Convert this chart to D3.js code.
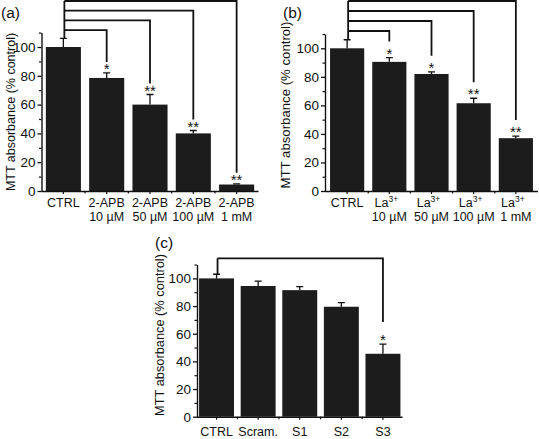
<!DOCTYPE html>
<html><head><meta charset="utf-8">
<script src="https://cdn.jsdelivr.net/npm/d3@7"></script>
<style>
body{margin:0;background:#fff;}
svg text{font-family:"Liberation Sans",Arial,Helvetica,sans-serif;fill:#111;}
</style></head>
<body><svg id="chart" width="539" height="439"></svg>
<script>
// ---------- data ----------
const yTicks = [0, 20, 40, 60, 80, 100];
const yMinorTicks = [10, 30, 50, 70, 90, 110];

const labelsA1 = ["CTRL", "2-APB", "2-APB", "2-APB", "2-APB"];
const labelsA2 = ["", "10 µM", "50 µM", "100 µM", "1 mM"];
const valuesA = [100, 78.5, 60, 40, 4.5];
const errorsA = [6, 3.5, 7, 2, 0.5];
const starsA = ["", "*", "**", "**", "**"];

const labelsB1 = ["CTRL", "La", "La", "La", "La"];
const supB = ["", "3+", "3+", "3+", "3+"];
const labelsB2 = ["", "10 µM", "50 µM", "100 µM", "1 mM"];
const valuesB = [100, 90.5, 82, 61.5, 37];
const errorsB = [6, 3, 1.5, 3.5, 1.5];
const starsB = ["", "*", "*", "**", "**"];

const labelsC1 = ["CTRL", "Scram.", "S1", "S2", "S3"];
const valuesC = [100, 94.5, 91.5, 79.5, 45.5];
const errorsC = [3, 3.5, 2.5, 3, 7];
const starsC = ["", "", "", "", "*"];

const svg = d3.select("#chart");
const ink = "#111";

function panel(cfg) {
  const g = svg.append("g");
  const n = cfg.labels1.length;
  const idx = d3.range(n);
  const x = d3.scaleBand().domain(idx).range(cfg.xr).paddingInner(cfg.pi).paddingOuter(cfg.po);
  const y = d3.scaleLinear().domain([0, 110]).range([cfg.y0, cfg.y0 - cfg.unit * 110]);

  // bars
  g.selectAll("rect.bar").data(idx).join("rect")
    .attr("x", i => x(i)).attr("width", x.bandwidth())
    .attr("y", i => y(cfg.values[i])).attr("height", i => y(0) - y(cfg.values[i]))
    .attr("fill", "#1c1c1c");

  // error bars
  const cx = i => x(i) + x.bandwidth() / 2;
  g.selectAll("path.err").data(idx).join("path")
    .attr("d", i => {
      const t = y(cfg.values[i] + cfg.errors[i]);
      return `M${cx(i)},${y(cfg.values[i])}V${t}M${cx(i) - 3.5},${t}H${cx(i) + 3.5}`;
    })
    .attr("stroke", ink).attr("stroke-width", 1.3).attr("fill", "none");

  // y axis
  const ya = g.append("g").attr("transform", `translate(${cfg.xr[0]},0)`)
    .call(d3.axisLeft(y).tickValues(yTicks).tickSize(4).tickSizeOuter(0).tickPadding(2));
  ya.attr("font-size", null).attr("font-family", null);
  ya.select(".domain").attr("stroke", ink).attr("stroke-width", 1.4);
  ya.selectAll(".tick line").attr("stroke", ink).attr("stroke-width", 1.3);
  ya.selectAll("text").attr("font-size", 13.5).attr("fill", ink);
  const ym = g.append("g").attr("transform", `translate(${cfg.xr[0]},0)`)
    .call(d3.axisLeft(y).tickValues(yMinorTicks).tickSize(2.5).tickFormat(""));
  ym.select(".domain").remove();
  ym.selectAll(".tick line").attr("stroke", ink).attr("stroke-width", 1.2);

  // x axis
  const xa = g.append("g").attr("transform", `translate(0,${cfg.y0})`)
    .call(d3.axisBottom(x).tickSize(3).tickSizeOuter(0).tickFormat(""));
  xa.select(".domain").attr("stroke", ink).attr("stroke-width", 1.4)
    .attr("d", `M${cfg.xr[0]},0.5H${cfg.xr[1]}`);
  xa.selectAll(".tick line").attr("stroke", ink).attr("stroke-width", 1.2);
  const mids = d3.range(n - 1).map(i => (cx(i) + cx(i + 1)) / 2);
  g.selectAll("line.mid").data(mids).join("line")
    .attr("x1", d => d).attr("x2", d => d).attr("y1", cfg.y0).attr("y2", cfg.y0 + 2.5)
    .attr("stroke", ink).attr("stroke-width", 1.2);

  // category labels
  idx.forEach(i => {
    const t = g.append("text").attr("x", cx(i) + (cfg.sup && cfg.sup[i] ? -3 : 0))
      .attr("y", cfg.lab1y).attr("text-anchor", "middle").attr("font-size", 12.5);
    t.append("tspan").text(cfg.labels1[i]);
    if (cfg.sup && cfg.sup[i]) {
      t.append("tspan").attr("font-size", 8.5).attr("dy", -5).text(cfg.sup[i]);
    }
    if (cfg.labels2 && cfg.labels2[i]) {
      g.append("text").attr("x", cx(i)).attr("y", cfg.lab2y)
        .attr("text-anchor", "middle").attr("font-size", 12.5).text(cfg.labels2[i]);
    }
  });

  // stars
  g.selectAll("text.star").data(idx.filter(i => cfg.stars[i])).join("text")
    .attr("x", i => cx(i)).attr("y", i => y(cfg.values[i] + cfg.errors[i]) + 1)
    .attr("text-anchor", "middle").attr("font-size", 15).text(i => cfg.stars[i]);

  // brackets
  const comps = idx.filter(i => cfg.stars[i]);
  const topCtrl = y(cfg.values[0] + cfg.errors[0]);
  const path = d3.path();
  comps.forEach((i, k) => {
    const level = cfg.bracketTop + (comps.length - 1 - k) * cfg.bracketGap;
    const endY = y(cfg.values[i] + cfg.errors[i]) - cfg.dropGap;
    path.moveTo(cx(0) + 1, level);
    path.lineTo(cx(i), level);
    path.lineTo(cx(i), endY);
  });
  path.moveTo(cx(0) + 1, topCtrl);
  path.lineTo(cx(0) + 1, cfg.bracketTop);
  g.append("path").attr("d", path.toString()).attr("fill", "none")
    .attr("stroke", ink).attr("stroke-width", 1.8);

  // y label
  g.append("text").attr("transform", `translate(${cfg.ylabX},${cfg.ylabY}) rotate(-90)`)
    .attr("text-anchor", "middle").attr("font-size", cfg.ylabSize)
    .text("MTT absorbance (% control)");

  // panel tag
  g.append("text").attr("x", cfg.tagX).attr("y", cfg.tagY).attr("font-size", 15.5).text(cfg.tag);
}

panel({
  labels1: labelsA1, labels2: labelsA2, values: valuesA, errors: errorsA, stars: starsA,
  xr: [41.5, 258.5], pi: 0.19, po: 0.1, y0: 191, unit: 1.44,
  lab1y: 207, lab2y: 221, bracketTop: 1, bracketGap: 9.7, dropGap: 11,
  ylabX: 15, ylabY: 112, ylabSize: 12.5, tag: "(a)", tagX: 1, tagY: 18
});
panel({
  labels1: labelsB1, sup: supB, labels2: labelsB2, values: valuesB, errors: errorsB, stars: starsB,
  xr: [325, 538], pi: 0.19, po: 0.12, y0: 191, unit: 1.427,
  lab1y: 207, lab2y: 221, bracketTop: 1, bracketGap: 10, dropGap: 16,
  ylabX: 290, ylabY: 105, ylabSize: 13.2, tag: "(b)", tagX: 283, tagY: 18
});
panel({
  labels1: labelsC1, values: valuesC, errors: errorsC, stars: starsC,
  xr: [197, 402.5], pi: 0.16, po: 0.05, y0: 416.7, unit: 1.383,
  lab1y: 436, bracketTop: 258.3, bracketGap: 10, dropGap: 22,
  ylabX: 164, ylabY: 335, ylabSize: 12.8, tag: "(c)", tagX: 155, tagY: 248
});
</script></body></html>
